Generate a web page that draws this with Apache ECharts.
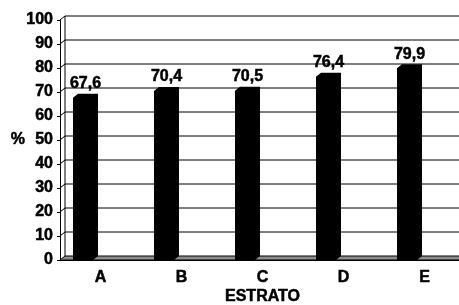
<!DOCTYPE html>
<html>
<head>
<meta charset="utf-8">
<script src="https://cdn.jsdelivr.net/npm/echarts@6/dist/echarts.min.js"></script>
<style>
  html, body { margin: 0; padding: 0; background: #fff; }
  #chart { width: 459px; height: 305px; }
</style>
</head>
<body>
<div id="chart"></div>
<script>
  const categories = ['A', 'B', 'C', 'D', 'E']
  const values = [67.6, 70.4, 70.5, 76.4, 79.9]
  const yTicks = [0, 10, 20, 30, 40, 50, 60, 70, 80, 90, 100]

  const font = 'Arial'
  const dx = 5, dy = 4 // 3D depth offset
  // heavy bold text like the scanned original
  const txt = { fontFamily: font, fontWeight: 'bold', fontSize: 16, color: '#000', textBorderColor: '#000', textBorderWidth: 0.5 }

  const chart = echarts.init(document.getElementById('chart'))

  // back wall + floor
  function renderWalls(params, api) {
    const cs = params.coordSys
    const v = api.value(0)
    const y = api.coord([categories[0], v])[1]
    const x0 = cs.x, x1 = cs.x + cs.width
    if (v === 0) {
      return {
        type: 'group',
        children: [
          { type: 'polygon', shape: { points: [[x0, y], [x0 + dx, y - dy], [x1 + dx, y - dy], [x1, y]] },
            style: { fill: '#8c8c8c', stroke: '#000', lineWidth: 1 } },
          { type: 'line', shape: { x1: x0 + dx, y1: y - dy, x2: x0 + dx, y2: cs.y - dy },
            style: { stroke: '#000', lineWidth: 1 } }
        ]
      }
    }
    return {
      type: 'polyline',
      shape: { points: [[x0, y], [x0 + dx, y - dy], [x1 + dx, y - dy]] },
      style: { stroke: '#000', fill: null, lineWidth: 1 }
    }
  }

  function renderBar(params, api) {
    const c = api.coord([api.value(0), api.value(1)])
    const base = api.coord([api.value(0), 0])
    const left = c[0] - 27.5
    const w = 20
    const top = c[1]
    return {
      type: 'group',
      children: [
        { type: 'polygon',
          shape: { points: [[left, base[1]], [left, top], [left + dx, top - dy], [left + w + dx, top - dy],
            [left + w + dx, base[1] - dy], [left + w, base[1]]] },
          style: { fill: '#000' } },
        { type: 'text', x: left + (w + dx) / 2, y: top - dy - 2,
          style: { text: String(api.value(1)).replace('.', ','), fill: '#000', font: 'bold 16px ' + font,
            stroke: '#000', lineWidth: 0.5, align: 'center', verticalAlign: 'bottom' } }
      ]
    }
  }

  chart.setOption({
    animation: false,
    grid: { left: 60, top: 20, width: 405, height: 240, outerBoundsMode: 'none' },
    xAxis: {
      type: 'category',
      data: categories,
      name: 'ESTRATO',
      nameLocation: 'middle',
      nameGap: 29,
      nameMoveOverlap: false,
      nameTextStyle: txt,
      axisLine: { lineStyle: { color: '#000', width: 1 } },
      axisTick: { length: 3, lineStyle: { color: '#000' } },
      axisLabel: Object.assign({ margin: 10 }, txt),
      splitLine: { show: false }
    },
    yAxis: {
      type: 'value',
      min: 0,
      max: 100,
      interval: 10,
      name: '%',
      nameLocation: 'middle',
      nameRotate: 0,
      nameGap: 35,
      nameMoveOverlap: false,
      nameTextStyle: txt,
      axisLine: { show: true, lineStyle: { color: '#000', width: 1 } },
      axisTick: { show: true, length: 3, lineStyle: { color: '#000' } },
      axisLabel: Object.assign({ margin: 7 }, txt),
      splitLine: { show: false }
    },
    series: [
      {
        type: 'custom',
        z: 1,
        renderItem: renderWalls,
        data: yTicks.map(v => [v]),
        encode: { y: 0 },
        silent: true
      },
      {
        type: 'custom',
        z: 3,
        renderItem: renderBar,
        data: categories.map((c, i) => [c, values[i]]),
        encode: { x: 0, y: 1 }
      }
    ]
  })
</script>
</body>
</html>
